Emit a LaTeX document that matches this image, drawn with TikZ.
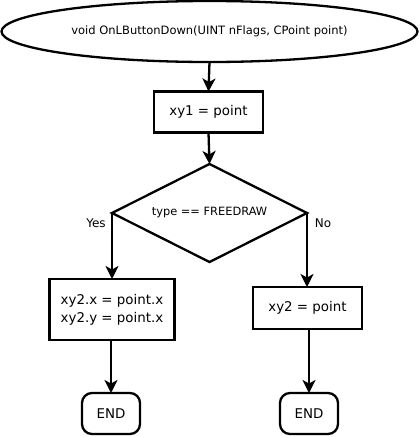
\documentclass[tikz,border=0pt]{standalone}
\usepackage{fontspec}
\setmainfont{DejaVu Sans}
\usetikzlibrary{shapes.geometric,arrows.meta}
\tikzset{
  every node/.style={inner sep=0pt, outer sep=0pt, text=black},
  conn/.style={line width=2.3pt, -{Stealth[length=13pt,width=13pt,inset=3.5pt]}},
  outline/.style={draw=black, line width=2.3pt},
  procbox/.style={outline, rectangle, font=\fontsize{13.4}{18}\selectfont, align=center},
  termbox/.style={outline, rectangle, rounded corners=10pt, minimum width=58pt, minimum height=41pt, font=\fontsize{13.4}{15}\selectfont},
  lbl/.style={font=\fontsize{12}{14}\selectfont}
}
\begin{document}
\begin{tikzpicture}[x=1pt,y=-1pt]
\useasboundingbox (0,0) rectangle (420,437);
\node[outline, ellipse, minimum width=416pt, minimum height=61pt, font=\fontsize{11.5}{13}\selectfont] (start) at (209.5,31.5) {void OnLButtonDown(UINT nFlags, CPoint point)};
\node[procbox, minimum width=109pt, minimum height=41pt] (b1) at (208.5,112) {xy1 = point};
\node[outline, diamond, minimum width=195pt, minimum height=98pt, aspect=2, font=\fontsize{11.4}{13}\selectfont] (dec) at (209.5,213) {type == FREEDRAW};
\node[procbox, minimum width=125pt, minimum height=61pt] (b2) at (112,309.5) {xy2.x = point.x\\xy2.y = point.x};
\node[procbox, minimum width=109pt, minimum height=42pt] (b3) at (307.5,308) {xy2 = point};
\node[termbox] (e1) at (111,413.5) {END};
\node[termbox] (e2) at (309,413.5) {END};
\node[lbl] (yes) at (96,223) {Yes};
\node[lbl] (no) at (323,223) {No};
\draw[conn] (start.south) -- (b1.north);
\draw[conn] (b1.south) -- (dec.north);
\draw[conn] (dec.west) -- (dec.west |- b2.north);
\draw[conn] (dec.east) -- (dec.east |- b3.north);
\draw[conn] (b2.south) -- (b2.south -| e1.north) -- (e1.north);
\draw[conn] (b3.south -| e2.north) -- (e2.north);
\end{tikzpicture}
\end{document}
